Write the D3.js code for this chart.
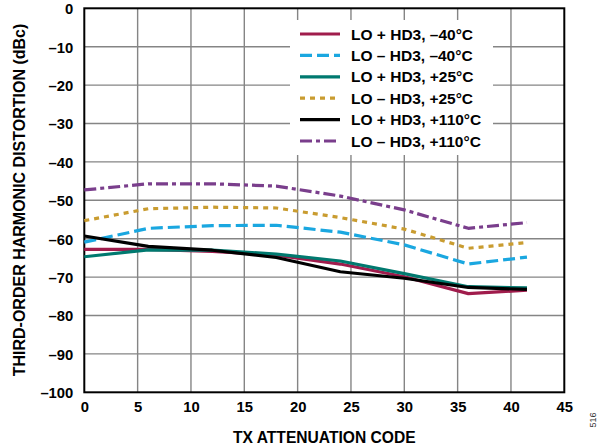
<!DOCTYPE html>
<html><head><meta charset="utf-8">
<script src="https://cdn.jsdelivr.net/npm/d3@7"></script>
<style>body{margin:0;background:#fff}svg{display:block}text{font-family:Arial,"Liberation Sans",sans-serif}</style>
</head><body><svg id="c" width="602" height="448"></svg>
<script>
const codes = [0, 6, 12, 18, 24, 30, 36, 41.5];
const loPlus_m40  = [-62.8, -62.8, -63.3, -64.3, -66.6, -69.9, -74.3, -73.4];
const loMinus_m40 = [-60.9, -57.3, -56.6, -56.5, -58.3, -61.6, -66.6, -64.8];
const loPlus_25   = [-64.7, -62.9, -63.0, -64.0, -65.8, -69.1, -72.5, -72.8];
const loMinus_25  = [-55.3, -52.2, -51.8, -52.0, -54.5, -57.5, -62.5, -61.0];
const loPlus_110  = [-59.3, -62.0, -63.0, -64.9, -68.6, -70.3, -72.7, -73.2];
const loMinus_110 = [-47.3, -45.7, -45.7, -46.3, -48.9, -52.5, -57.3, -55.8];
const seriesNames = ["LO + HD3, \u201340°C","LO \u2013 HD3, \u201340°C","LO + HD3, +25°C","LO \u2013 HD3, +25°C","LO + HD3, +110°C","LO \u2013 HD3, +110°C"];
const xTicks = [0,5,10,15,20,25,30,35,40,45];
const yTicks = [0,-10,-20,-30,-40,-50,-60,-70,-80,-90,-100];

const series = [
  {name:seriesNames[0], vals:loPlus_m40,  color:"#A01C4C", dash:null},
  {name:seriesNames[1], vals:loMinus_m40, color:"#1AA7E0", dash:"12,5"},
  {name:seriesNames[2], vals:loPlus_25,   color:"#00796F", dash:null},
  {name:seriesNames[3], vals:loMinus_25,  color:"#C99C30", dash:"5,5"},
  {name:seriesNames[4], vals:loPlus_110,  color:"#000000", dash:null},
  {name:seriesNames[5], vals:loMinus_110, color:"#7A3E8C", dash:"12,4,4,4"}
];

const L=84.3, R=564.3, T=8.3, B=392.3;
const svg = d3.select("#c");
const x = d3.scaleLinear().domain([0,45]).range([L,R]);
const y = d3.scaleLinear().domain([-100,0]).range([B,T]);

const fmt = v => v<0 ? "\u2013"+Math.abs(v) : String(v);

// grid
svg.append("g").selectAll("line").data(xTicks.slice(1,-1)).join("line")
  .attr("x1",d=>x(d)).attr("x2",d=>x(d)).attr("y1",T).attr("y2",B)
  .attr("stroke","#858585").attr("stroke-width",1.4);
svg.append("g").selectAll("line").data(yTicks.slice(1,-1)).join("line")
  .attr("x1",L).attr("x2",R).attr("y1",d=>y(d)).attr("y2",d=>y(d))
  .attr("stroke","#858585").attr("stroke-width",1.4);

// legend background
svg.append("rect").attr("x",290).attr("y",20).attr("width",203).attr("height",135).attr("fill","#fff");

// axes
const xAxis = svg.append("g").attr("transform",`translate(0,${B})`)
  .call(d3.axisBottom(x).tickValues(xTicks).tickSize(0).tickPadding(9).tickFormat(fmt));
const yAxis = svg.append("g").attr("transform",`translate(${L},0)`)
  .call(d3.axisLeft(y).tickValues(yTicks).tickSize(0).tickPadding(11).tickFormat(fmt));
[xAxis,yAxis].forEach(a=>{
  a.select(".domain").remove();
  a.selectAll("text").attr("font-size","14.8px").attr("font-weight","bold").attr("fill","#000")
   .style("font-family","Arial, 'Liberation Sans', sans-serif");
});
yAxis.selectAll("text").attr("dy","0.36em");

// frame
svg.append("rect").attr("x",L).attr("y",T).attr("width",R-L).attr("height",B-T)
  .attr("fill","none").attr("stroke","#000").attr("stroke-width",2);

// lines
const line = d3.line().x((d,i)=>x(codes[i])).y(d=>y(d));
svg.append("g").selectAll("path").data(series).join("path")
  .attr("d",d=>line(d.vals)).attr("fill","none")
  .attr("stroke",d=>d.color).attr("stroke-width",3.2)
  .attr("stroke-dasharray",d=>d.dash)
  .attr("stroke-linejoin","round");

// legend
const lg = svg.append("g");
series.forEach((s,i)=>{
  const yy = 34 + i*21.4;
  lg.append("line").attr("x1",300).attr("x2",340).attr("y1",yy).attr("y2",yy)
    .attr("stroke",s.color).attr("stroke-width",3.2).attr("stroke-dasharray",s.dash);
  lg.append("text").attr("x",351).attr("y",yy).attr("dy","0.36em")
    .attr("font-size","15.5px").attr("font-weight","bold").text(s.name);
});

// titles
svg.append("text").attr("x",(L+R)/2).attr("y",443).attr("text-anchor","middle")
  .attr("font-size","15.6px").attr("font-weight","bold").text("TX ATTENUATION CODE");
svg.append("text").attr("transform",`translate(25,200) rotate(-90)`).attr("text-anchor","middle")
  .attr("font-size","16px").attr("font-weight","bold").text("THIRD-ORDER HARMONIC DISTORTION (dBc)");
svg.append("text").attr("transform",`translate(596,420) rotate(-90)`).attr("text-anchor","middle")
  .attr("font-size","9px").attr("fill","#333").text("516");
</script></body></html>
